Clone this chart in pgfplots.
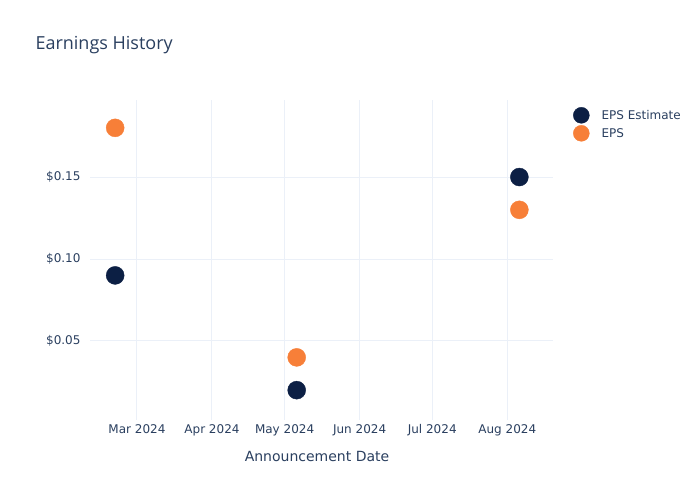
\documentclass[border=0pt]{standalone}
\usepackage{pgfplots}
\pgfplotsset{compat=1.18}
\usepackage{fontspec}
\setmainfont{DejaVu Sans}
\newfontfamily\titlefont{Open Sans}
\definecolor{txt}{HTML}{2A3F5F}
\definecolor{gridc}{HTML}{EBF0F8}
\definecolor{est}{HTML}{0C1F44}
\definecolor{epsc}{HTML}{F77F38}
\begin{document}
\begin{tikzpicture}[x=1bp,y=1bp]
\path[use as bounding box] (0,0) rectangle (700,500);
\begin{axis}[at={(90bp,80bp)}, anchor=south west, scale only axis,
  width=463bp, height=320bp,
  xmin=40.6, xmax=231.9, ymin=0.0018, ymax=0.197,
  axis line style={draw=none}, tick style={draw=none},
  grid=major, major grid style={gridc, line width=1bp},
  xtick={60,91,121,152,182,213},
  xticklabels={Mar 2024,Apr 2024,May 2024,Jun 2024,Jul 2024,Aug 2024},
  ytick={0.05,0.10,0.15},
  yticklabels={\$0.05,\$0.10,\$0.15},
  ticklabel style={font=\fontsize{12bp}{14bp}\selectfont, text=txt},
  xticklabel style={yshift=-1bp},
  yticklabel style={xshift=-6bp},
  legend style={at={(1.037,0.984)}, anchor=north west, draw=none, fill=none,
    font=\fontsize{12bp}{14bp}\selectfont, text=txt, row sep=2bp,
    legend cell align=left},
  legend image code/.code={\draw[#1, mark size=8bp] plot coordinates {(0.3cm,0cm)};
    \path (0.3cm+18bp,0cm);},
]
\addplot[only marks, mark=*, mark size=9bp, est, mark options={draw=est, fill=est}]
  coordinates {(51,0.09) (126,0.02) (218,0.15)};
\addlegendentry{EPS Estimate}
\addplot[only marks, mark=*, mark size=9bp, epsc, mark options={draw=epsc, fill=epsc}]
  coordinates {(51,0.18) (126,0.04) (218,0.13)};
\addlegendentry{EPS}
\end{axis}
\node[anchor=west, text=txt, font=\titlefont\fontsize{18bp}{21bp}\selectfont] at (32,455) {Earnings History};
\node[text=txt, font=\fontsize{14bp}{16bp}\selectfont] at (317,44) {Announcement Date};
\end{tikzpicture}
\end{document}
